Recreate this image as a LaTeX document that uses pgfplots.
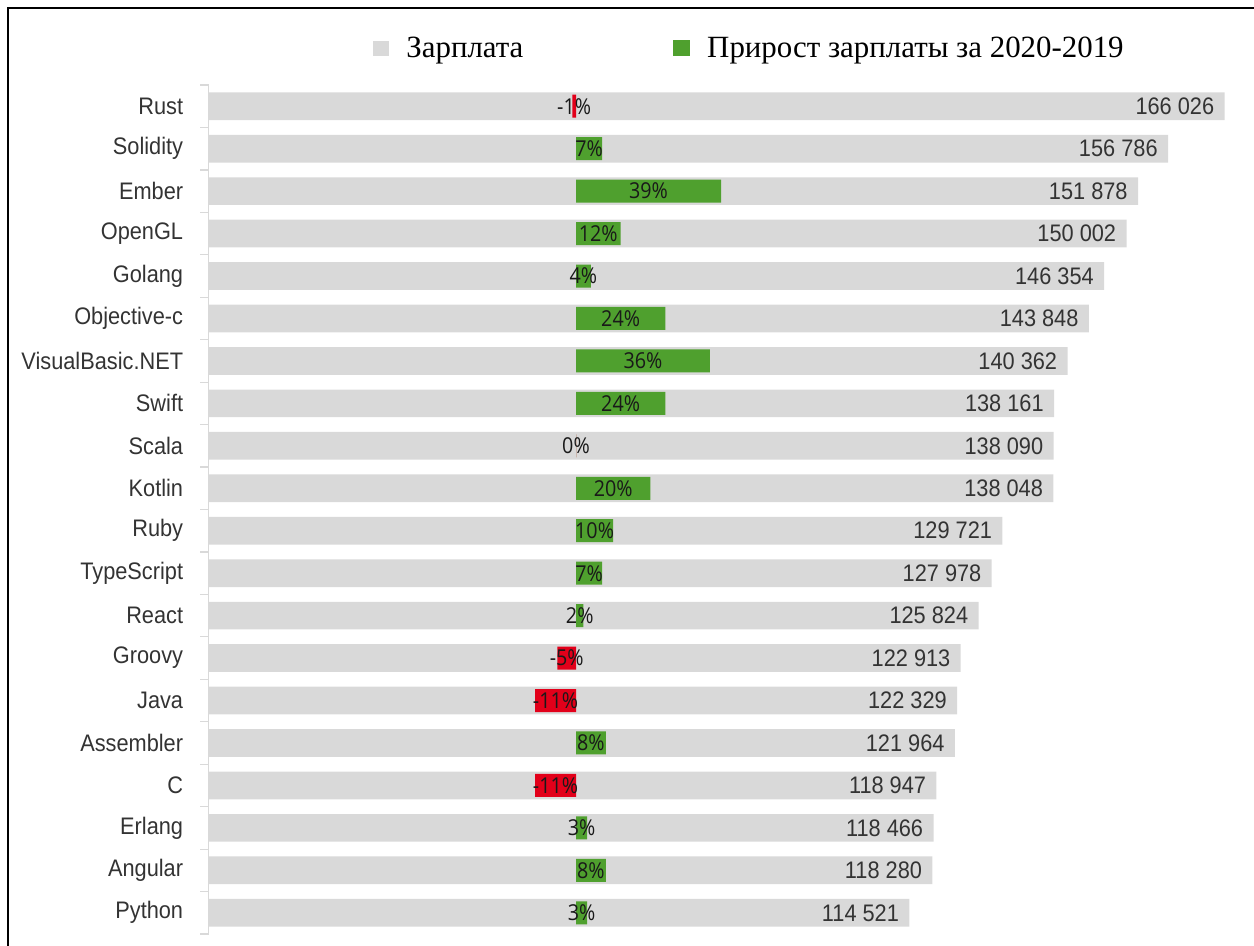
\documentclass[border=0pt]{standalone}
\usepackage{pgfplots}
\pgfplotsset{compat=1.18}
\usepackage{pgfplotstable}
\usepackage{fontspec}
\setmainfont{Liberation Sans}
\newfontfamily\condfont[FakeStretch=0.91]{Liberation Sans}
\newfontfamily\legfont{Liberation Serif}
\newfontfamily\pctfont[FakeStretch=0.9]{Open Sans}
\definecolor{bargrey}{HTML}{D9D9D9}
\definecolor{gup}{HTML}{4FA02E}
\definecolor{gdown}{HTML}{E2001A}
\definecolor{txt}{HTML}{333333}

\pgfplotstableread{
y name sal g
0 Rust 166026 -1
1 Solidity 156786 7
2 Ember 151878 39
3 OpenGL 150002 12
4 Golang 146354 4
5 Objective-c 143848 24
6 VisualBasic.NET 140362 36
7 Swift 138161 24
8 Scala 138090 0
9 Kotlin 138048 20
10 Ruby 129721 10
11 TypeScript 127978 7
12 React 125824 2
13 Groovy 122913 -5
14 Java 122329 -11
15 Assembler 121964 8
16 C 118947 -11
17 Erlang 118466 3
18 Angular 118280 8
19 Python 114521 3
}\data

\begin{document}
\begin{tikzpicture}
\path[use as bounding box] (0,0) rectangle (627bp,473bp);
\draw[line width=1bp] (3.75bp,0) -- (3.75bp,469bp) -- (627bp,469bp);
\begin{axis}[
  at={(104.25bp,6bp)}, anchor=south west,
  scale only axis, width=520.2bp, height=424.5bp,
  xmin=0, xmax=170000, ymin=-0.5, ymax=19.5, y dir=reverse,
  axis x line=none, axis y line*=left,
  y axis line style={draw=bargrey, line width=0.6bp, -},
  ytick={0,...,19},
  yticklabels={Rust,Solidity,Ember,OpenGL,Golang,Objective-c,VisualBasic.NET,Swift,Scala,Kotlin,Ruby,TypeScript,React,Groovy,Java,Assembler,C,Erlang,Angular,Python},
  minor ytick={-0.5,0.5,...,19.5},
  major tick length=0pt, minor tick length=4bp, tick align=outside,
  minor tick style={draw=bargrey, line width=0.6bp},
  major tick style={draw=none},
  yticklabel style={font=\condfont\fontsize{12}{14}\selectfont, text=txt, inner sep=0pt, anchor=east, xshift=-12.5bp},
  clip=false,
  legend columns=2,
  legend style={at={(axis description cs:0.1581,1.0432)}, anchor=west, draw=none, fill=none, inner sep=0pt,
    font=\legfont\fontsize{15.5}{18}\selectfont, nodes={inner sep=0pt},
    /tikz/every odd column/.append style={column sep=8.5bp},
    /tikz/every even column/.append style={column sep=75bp}},
]
\addplot[xbar, bar width=13.85bp, fill=bargrey, draw=none,
  legend image code/.code={\fill[bargrey] (0bp,-3.75bp) rectangle (8bp,3.75bp);},
  nodes near coords={\pgfmathprintnumber[assume math mode=true,fixed,precision=0,1000 sep={\ }]{\pgfplotspointmeta}},
  every node near coord/.append style={anchor=east, inner sep=0pt, xshift=-5bp, font=\condfont\fontsize{12}{14}\selectfont, text=txt}]
  table[x=sal,y=y]{\data};
\addlegendentry{Зарплата}
\addlegendimage{legend image code/.code={\fill[gup] (0bp,-3.75bp) rectangle (8bp,3.75bp);}}
\addlegendentry{Прирост зарплаты за 2020-2019}
\end{axis}
\begin{axis}[
  at={(104.25bp,6bp)}, anchor=south west,
  scale only axis, width=520.2bp, height=424.5bp,
  xmin=-98.79, xmax=180.89, ymin=-0.5, ymax=19.5, y dir=reverse,
  hide axis, clip=false,
]
\addplot[xbar, bar width=11.5bp, fill=gup, draw=none, restrict x to domain=0:1000] table[x=g,y=y]{\data};
\addplot[xbar, bar width=11.5bp, fill=gdown, draw=none, restrict x to domain=-1000:0] table[x=g,y=y]{\data};
\addplot[only marks, mark=none, point meta=explicit,
  nodes near coords={\pgfmathprintnumber[assume math mode=true]{\pgfplotspointmeta}\%},
  every node near coord/.append style={anchor=center, inner sep=0pt, font=\pctfont\fontsize{11}{13}\selectfont, text=black!90}]
  table[x expr=\thisrow{g}/2, y=y, meta=g]{\data};
\end{axis}
\end{tikzpicture}
\end{document}
